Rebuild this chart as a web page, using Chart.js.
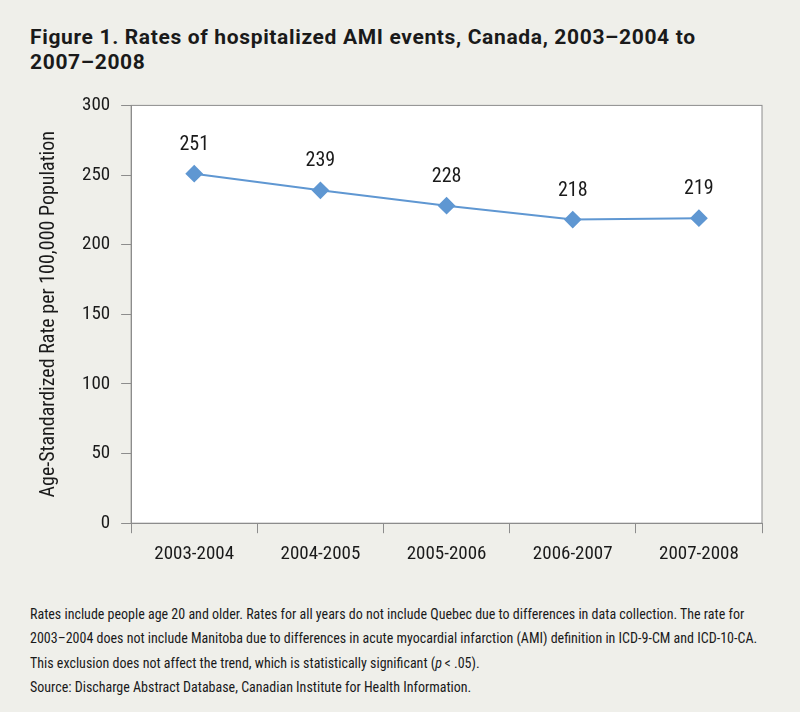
<!DOCTYPE html>
<html>
<head>
<meta charset="utf-8">
<script src="https://cdn.jsdelivr.net/npm/chart.js@4"></script>
<style>
  body { margin: 0; background: #efefea; font-family: "Roboto Condensed", sans-serif; color: #1a1a1a; }
  #page { position: relative; width: 800px; height: 712px; overflow: hidden; }
  #title { position: absolute; left: 30px; top: 25px; width: 760px; font-family: Roboto, sans-serif; font-weight: bold; font-size: 21px; letter-spacing: 0.65px; line-height: 25px; white-space: nowrap; }
  #chartBox { position: absolute; left: 0; top: 83px; width: 800px; height: 493px; }
  #notes { position: absolute; left: 30px; top: 602px; width: 770px; font-size: 14px; line-height: 24.3px; white-space: nowrap; }
</style>
</head>
<body>
<div id="page">
  <div id="title">Figure 1. Rates of hospitalized AMI events, Canada, 2003–2004 to<br>2007–2008</div>
  <div id="chartBox"><canvas id="ami"></canvas></div>
  <div id="notes">Rates include people age 20 and older. Rates for all years do not include Quebec due to differences in data collection. The rate for<br>2003–2004 does not include Manitoba due to differences in acute myocardial infarction (AMI) definition in ICD-9-CM and ICD-10-CA.<br>This exclusion does not affect the trend, which is statistically significant (<i>p</i>&thinsp;&lt; .05).<br>Source: Discharge Abstract Database, Canadian Institute for Health Information.</div>
</div>
<script>
const years = ["2003-2004", "2004-2005", "2005-2006", "2006-2007", "2007-2008"];
const rates = [251, 239, 228, 218, 219];
const yTicks = [0, 50, 100, 150, 200, 250, 300];

const font = "'Roboto Condensed', sans-serif";

// white plot area with a light frame
const plotFrame = {
  id: "plotFrame",
  beforeDraw(chart) {
    const a = chart.chartArea, ctx = chart.ctx;
    ctx.save();
    ctx.fillStyle = "#ffffff";
    ctx.fillRect(a.left, a.top, a.right - a.left, a.bottom - a.top);
    ctx.strokeStyle = "#8c8c8c";
    ctx.lineWidth = 1;
    ctx.strokeRect(a.left, a.top, a.right - a.left, a.bottom - a.top);
    ctx.restore();
  }
};

// value labels above each point
const valueLabels = {
  id: "valueLabels",
  afterDatasetsDraw(chart) {
    const ctx = chart.ctx;
    const meta = chart.getDatasetMeta(0);
    ctx.save();
    ctx.font = "20px " + font;
    ctx.fillStyle = "#1a1a1a";
    ctx.textAlign = "center";
    ctx.textBaseline = "bottom";
    meta.data.forEach((pt, i) => {
      ctx.fillText(rates[i], pt.x, pt.y - 19);
    });
    ctx.restore();
  }
};

new Chart(document.getElementById("ami"), {
  type: "line",
  data: {
    labels: years,
    datasets: [{
      label: "Rate",
      data: rates,
      borderColor: "#5f97d2",
      backgroundColor: "#5f97d2",
      borderWidth: 2,
      pointStyle: "rectRot",
      pointRadius: 7.5,
      pointHoverRadius: 7.5,
      tension: 0
    }]
  },
  options: {
    responsive: true,
    maintainAspectRatio: false,
    animation: false,
    layout: { padding: { left: 33, right: 38, top: 11, bottom: 0 } },
    plugins: {
      legend: { display: false },
      tooltip: { enabled: false }
    },
    scales: {
      x: {
        offset: true,
        grid: { offset: true, drawOnChartArea: false, tickLength: 10, color: "#8c8c8c" },
        border: { color: "#8c8c8c" },
        ticks: { color: "#1a1a1a", font: { family: font, size: 19 }, padding: 10, maxRotation: 0 }
      },
      y: {
        min: 0,
        max: 300,
        afterBuildTicks(axis) { axis.ticks = yTicks.map(v => ({ value: v })); },
        grid: { drawOnChartArea: false, tickLength: 10, color: "#8c8c8c" },
        border: { color: "#8c8c8c" },
        ticks: { color: "#1a1a1a", font: { family: font, size: 19 }, padding: 11 },
        title: {
          display: true,
          text: "Age-Standardized Rate per 100,000 Population",
          color: "#1a1a1a",
          font: { family: font, size: 20 },
          padding: { bottom: 10 }
        }
      }
    }
  },
  plugins: [plotFrame, valueLabels]
});
</script>
</body>
</html>
